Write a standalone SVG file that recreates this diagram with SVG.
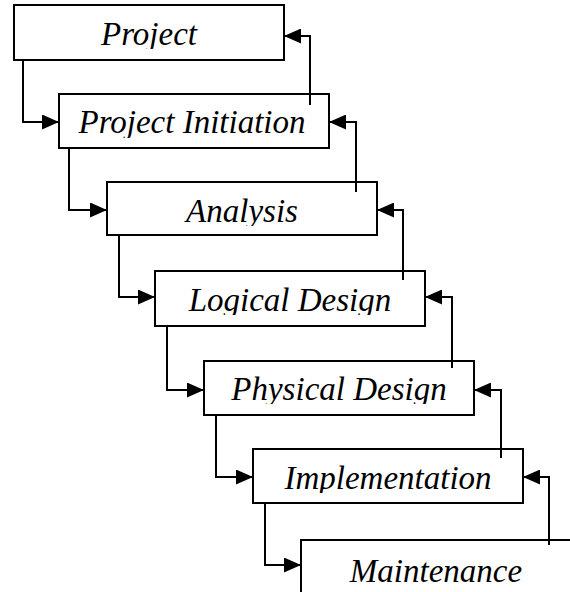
<svg xmlns="http://www.w3.org/2000/svg" width="570" height="592" viewBox="0 0 570 592">
<style>
.box{fill:#fff;stroke:#000;stroke-width:2}
.lbl{font-family:"Liberation Serif","Times New Roman",serif;font-style:italic;font-size:33px;fill:#000;text-anchor:middle}
.con{fill:none;stroke:#000;stroke-width:2}
</style>
<defs>
<marker id="ah" markerUnits="userSpaceOnUse" markerWidth="17" markerHeight="15" refX="17" refY="7.5" orient="auto">
<path d="M0,0 L17,7.5 L0,15 z" fill="#000"/>
</marker>
<clipPath id="c1"><rect x="14" y="5" width="270" height="44"/></clipPath>
<clipPath id="c2"><rect x="59" y="94" width="270" height="44"/></clipPath>
<clipPath id="c3"><rect x="107" y="182" width="270" height="44"/></clipPath>
<clipPath id="c4"><rect x="155" y="271" width="270" height="44"/></clipPath>
<clipPath id="c5"><rect x="204" y="361" width="270" height="43"/></clipPath>
<clipPath id="c6"><rect x="253" y="449" width="270" height="44"/></clipPath>
<clipPath id="c7"><rect x="301" y="540" width="270" height="52"/></clipPath>
</defs>
<rect width="570" height="592" fill="#fff"/>
<g id="project"><rect class="box" x="14" y="5" width="270" height="55"/><text class="lbl" x="149" y="45" clip-path="url(#c1)">Project</text></g>
<g id="project-initiation"><rect class="box" x="59" y="94" width="270" height="54"/><text class="lbl" x="192" y="133" clip-path="url(#c2)">Project Initiation</text></g>
<g id="analysis"><rect class="box" x="107" y="182" width="270" height="53"/><text class="lbl" x="242" y="222" clip-path="url(#c3)">Analysis</text></g>
<g id="logical-design"><rect class="box" x="155" y="271" width="270" height="55"/><text class="lbl" x="290" y="311" clip-path="url(#c4)">Logical Design</text></g>
<g id="physical-design"><rect class="box" x="204" y="361" width="270" height="54"/><text class="lbl" x="339" y="400" clip-path="url(#c5)">Physical Design</text></g>
<g id="implementation"><rect class="box" x="253" y="449" width="270" height="54"/><text class="lbl" x="388" y="489" clip-path="url(#c6)">Implementation</text></g>
<g id="maintenance"><rect class="box" x="301" y="540" width="272" height="60"/><text class="lbl" x="436" y="582" clip-path="url(#c7)">Maintenance</text></g>
<g id="connectors">
<path class="con" d="M23,60 V122 H59" marker-end="url(#ah)"/>
<path class="con" d="M69,148 V210 H107" marker-end="url(#ah)"/>
<path class="con" d="M119,235 V297 H155" marker-end="url(#ah)"/>
<path class="con" d="M167,326 V390 H204" marker-end="url(#ah)"/>
<path class="con" d="M216,415 V477 H253" marker-end="url(#ah)"/>
<path class="con" d="M265,503 V565 H301" marker-end="url(#ah)"/>
<path class="con" d="M310,105 V36 H284" marker-end="url(#ah)"/>
<path class="con" d="M356,192 V122 H329" marker-end="url(#ah)"/>
<path class="con" d="M403,280 V210 H377" marker-end="url(#ah)"/>
<path class="con" d="M452,368 V297 H425" marker-end="url(#ah)"/>
<path class="con" d="M501,458 V390 H474" marker-end="url(#ah)"/>
<path class="con" d="M549,545 V477 H523" marker-end="url(#ah)"/>
</g>
</svg>
